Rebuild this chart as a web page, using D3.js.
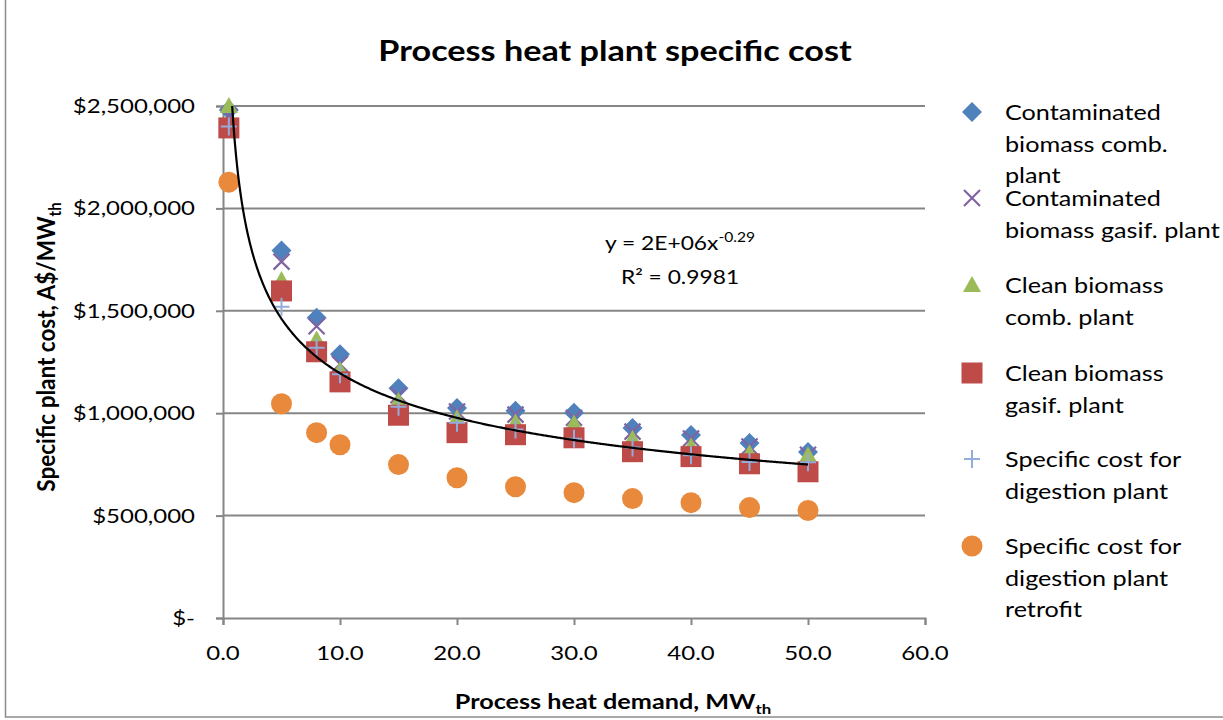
<!DOCTYPE html>
<html><head><meta charset="utf-8">
<script src="https://cdn.jsdelivr.net/npm/d3@7"></script>
<style>
body{margin:0;background:#fff}
svg{display:block}
text{font-family:Lato,"Open Sans",sans-serif;fill:#000}
</style>
</head><body>
<svg id="c" width="1223" height="720"></svg>
<script>
// ---------- data ----------
const xValues     = [0.5, 5, 8, 10, 15, 20, 25, 30, 35, 40, 45, 50];
const contamComb  = [2480000, 1795000, 1466000, 1288000, 1122000, 1025000, 1012000, 1002000, 928000, 893000, 855000, 810000];
const contamGasif = [2450000, 1740000, 1425000, 1240000, 1088000, 1008000, 993000, 978000, 910000, 876000, 837000, 797000];
const cleanComb   = [2500000, 1650000, 1360000, 1210000, 1060000, 975000, 955000, 950000, 875000, 837000, 805000, 795000];
const cleanGasif  = [2393000, 1597000, 1300000, 1153000, 990000, 905000, 895000, 880000, 812000, 788000, 753000, 714000];
const digestion   = [2400000, 1520000, 1320000, 1190000, 1032000, 953000, 920000, 875000, 832000, 795000, 762000, 760000];
const retrofit    = [2128000, 1046000, 905000, 846000, 749000, 685000, 641000, 612000, 583000, 563000, 539000, 525000];
const xTicks = [0, 10, 20, 30, 40, 50, 60];
const yTicks = [0, 500000, 1000000, 1500000, 2000000, 2500000];
const trendCoef = 2330000, trendExp = -0.29;
const seriesNames = [
  ["Contaminated", "biomass comb.", "plant"],
  ["Contaminated", "biomass gasif. plant"],
  ["Clean biomass", "comb. plant"],
  ["Clean biomass", "gasif. plant"],
  ["Specific cost for", "digestion plant"],
  ["Specific cost for", "digestion plant", "retrofit"]
];
const seriesValues = [contamComb, contamGasif, cleanComb, cleanGasif, digestion, retrofit];
const seriesShapes = ["diamond", "cross", "triangle", "square", "plus", "circle"];
const seriesColors = ["#4F81BD", "#8064A2", "#9BBB59", "#BE4B48", "#93ACDA", "#E8893C"];

// ---------- layout ----------
const SX = 1.2; // horizontal stretch of text (reference is stretched)
const svg = d3.select("#c");
const L = 223, R = 925, T = 106, B = 618;
const x = d3.scaleLinear().domain([0, 60]).range([L, R]);
const y = d3.scaleLinear().domain([0, 2500000]).range([B, T]);
const grid = "#868686";

function label(g, px, py, s, size, opts = {}) {
  const sc = opts.rot ? `scale(1,${opts.sy || SX})` : `scale(${opts.sx || SX},1)`;
  const t = g.append("text")
    .attr("transform", `translate(${px},${py})` + (opts.rot ? ` rotate(${opts.rot})` : "") + " " + sc)
    .attr("font-size", size)
    .attr("font-weight", opts.weight || "normal")
    .attr("text-anchor", opts.anchor || "start");
  t.text(s);
  return t;
}

// border
svg.append("rect").attr("x", 5.5).attr("y", -10).attr("width", 1240).attr("height", 727)
  .attr("fill", "none").attr("stroke", "#8c8c8c").attr("stroke-width", 1.5);

// gridlines
svg.append("g").selectAll("line").data(yTicks.filter(d => d > 0)).join("line")
  .attr("x1", L).attr("x2", R).attr("y1", d => y(d)).attr("y2", d => y(d))
  .attr("stroke", grid).attr("stroke-width", 2);

// axes
const yAxis = d3.axisLeft(y).tickValues(yTicks).tickSize(7).tickFormat("");
const gy = svg.append("g").attr("transform", `translate(${L},0)`).call(yAxis);
const xAxis = d3.axisBottom(x).tickValues(xTicks).tickSize(7).tickFormat("");
const gx = svg.append("g").attr("transform", `translate(0,${B})`).call(xAxis);
[gy, gx].forEach(g => {
  g.select(".domain").attr("stroke", grid).attr("stroke-width", 2);
  g.selectAll(".tick line").attr("stroke", grid).attr("stroke-width", 2);
});

// tick labels
const fmt = d => d === 0 ? "$-" : "$" + d3.format(",")(d);
yTicks.forEach(d => label(svg, 195, y(d) + 7, fmt(d), 20, {anchor: "end"}));
xTicks.forEach(d => label(svg, x(d), 660, d3.format(".1f")(d), 20, {anchor: "middle"}));

// marker symbols
function drawMarker(g, shape, color, cx, cy) {
  const s = g.append("g").attr("transform", `translate(${cx},${cy})`);
  if (shape === "diamond") s.append("path").attr("d", "M0,-10L10,0L0,10L-10,0Z").attr("fill", color);
  else if (shape === "square") s.append("rect").attr("x", -10.5).attr("y", -10.5).attr("width", 21).attr("height", 21).attr("fill", color);
  else if (shape === "triangle") s.append("path").attr("d", "M0,-9L9,7L-9,7Z").attr("fill", color);
  else if (shape === "circle") s.append("circle").attr("r", 10.5).attr("fill", color);
  else if (shape === "cross") s.append("path").attr("d", "M-8,-8L8,8M-8,8L8,-8").attr("stroke", color).attr("stroke-width", 2.2).attr("fill", "none");
  else if (shape === "plus") s.append("path").attr("d", "M-8,0L8,0M0,-9L0,9").attr("stroke", color).attr("stroke-width", 2).attr("fill", "none");
}

// points
const pts = svg.append("g");
seriesValues.forEach((vals, i) => {
  vals.forEach((v, j) => drawMarker(pts, seriesShapes[i], seriesColors[i], x(xValues[j]), y(v)));
});

// trendline (power fit)
svg.append("clipPath").attr("id", "clip").append("rect").attr("x", L).attr("y", T).attr("width", R - L).attr("height", B - T);
const trendX = d3.range(0.5, 50.001, 0.1);
svg.append("path").attr("clip-path", "url(#clip)")
  .datum(trendX)
  .attr("d", d3.line().x(d => x(d)).y(d => y(trendCoef * Math.pow(d, trendExp))))
  .attr("fill", "none").attr("stroke", "#000").attr("stroke-width", 2.2);

// equation
const eq = label(svg, 680, 250, "y = 2E+06x", 19, {anchor: "middle"});
eq.append("tspan").attr("font-size", 13).attr("dy", -8).text("-0.29");
label(svg, 680, 284, "R\u00B2 = 0.9981", 19, {anchor: "middle"});

// title
label(svg, 615, 61, "Process heat plant specific cost", 28.5, {anchor: "middle", weight: "bold"});

// axis titles
const xt = label(svg, 613, 709, "Process heat demand, MW", 21, {anchor: "middle", weight: "bold"});
xt.append("tspan").attr("font-size", 14).attr("dy", 5).text("th");
const yt = label(svg, 55, 347, "Specific plant cost, A$/MW", 22.5, {anchor: "middle", weight: "bold", rot: -90, sy: 1.1});
yt.append("tspan").attr("font-size", 15).attr("dy", 5).text("th");

// legend
const legendY = [112, 198, 285, 373, 459, 546];
const lg = svg.append("g");
seriesNames.forEach((lines, i) => {
  drawMarker(lg, seriesShapes[i], seriesColors[i], 972, legendY[i]);
  lines.forEach((ln, k) => label(lg, 1005, legendY[i] + 8 + k * 31.5, ln, 21));
});
</script>
</body></html>
